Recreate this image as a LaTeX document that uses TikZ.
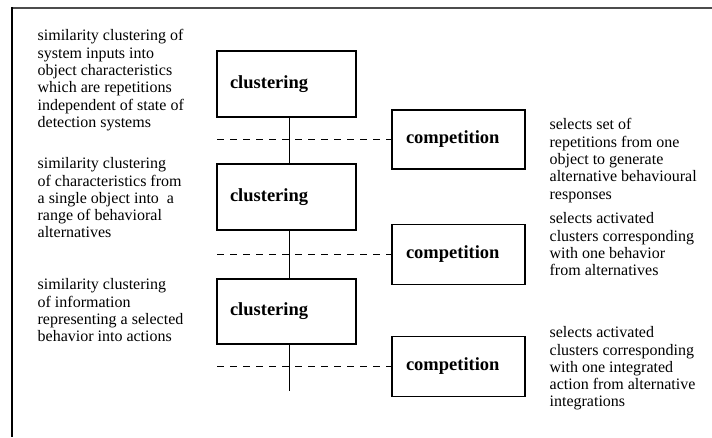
\documentclass[tikz,border=0pt]{standalone}
\usepackage{fontspec}
\setmainfont{Liberation Serif}
\begin{document}
\begin{tikzpicture}[x=1pt,y=-1pt,line width=1.3pt,
  every node/.style={font=\fontsize{16}{17.3}\selectfont},
  clustbox/.style={draw,line width=1.3pt,minimum width=139pt,minimum height=66pt,text width=113pt,inner xsep=13pt,align=left,font=\fontsize{18.5}{20}\selectfont\bfseries},
  compbox/.style={draw,line width=1.3pt,minimum width=133pt,minimum height=60pt,text width=105pt,inner xsep=14pt,align=left,font=\fontsize{18.5}{20}\selectfont\bfseries},
  note/.style={anchor=north west,inner sep=0pt,align=left}]
  \useasboundingbox (0,0) rectangle (712,437);
  % frame
  \draw[line width=2pt,black!70] (11,7.5)--(712,7.5);
  \draw[line width=2pt] (11.5,7)--(11.5,437);
  % clustering column
  \node[clustbox] (clust1) at (286.5,84) {clustering};
  \node[clustbox] (clust2) at (286.5,197) {clustering};
  \node[clustbox,minimum height=65pt] (clust3) at (286.5,311.5) {clustering};
  \coordinate (spineend) at (289.5,391);
  \draw (clust1.south -| spineend)--(clust2.north -| spineend);
  \draw (clust2.south -| spineend)--(clust3.north -| spineend);
  \draw (clust3.south -| spineend)--(spineend);
  % competition column
  \node[compbox,minimum height=59pt] (comp1) at (458.5,139.5) {competition};
  \node[compbox] (comp2) at (458.5,254.5) {competition};
  \node[compbox] (comp3) at (458.5,366.5) {competition};
  \coordinate (dash1) at (217,139.5); \coordinate (dash2) at (217,254.5); \coordinate (dash3) at (217,366.5);
  \draw[dash pattern=on 7pt off 6pt] (dash1)--(comp1.west);
  \draw[dash pattern=on 7pt off 6pt] (dash2)--(comp2.west);
  \draw[dash pattern=on 7pt off 6pt] (dash3)--(comp3.west);
  % notes
  \node[note] (clustnote1) at (37,29) {similarity clustering of\\system inputs into\\object characteristics\\which are repetitions\\independent of state of\\detection systems};
  \node[note] (clustnote2) at (37,157) {similarity clustering\\of characteristics from\\a single object into~ a\\range of behavioral\\alternatives};
  \node[note] (clustnote3) at (37,278) {similarity clustering\\of information\\representing a selected\\behavior into actions};
  \node[note] (compnote1) at (549,118) {selects set of\\repetitions from one\\object to generate\\alternative behavioural\\responses};
  \node[note] (compnote2) at (549,212) {selects activated\\clusters corresponding\\with one behavior\\from alternatives};
  \node[note] (compnote3) at (549,326) {selects activated\\clusters corresponding\\with one integrated\\action from alternative\\integrations};
\end{tikzpicture}
\end{document}
